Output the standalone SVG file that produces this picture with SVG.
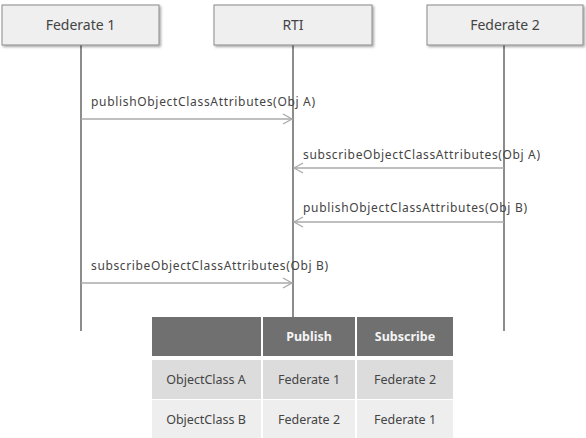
<svg xmlns="http://www.w3.org/2000/svg" width="586" height="438" viewBox="0 0 586 438">
<defs>
<marker id="open" markerWidth="12" markerHeight="12" refX="10" refY="6" orient="auto" markerUnits="userSpaceOnUse">
<path d="M1,1 L10,6 L1,11" fill="none" stroke="#aaaaaa" stroke-width="1.3"/>
</marker>
<filter id="sh" x="-5%" y="-5%" width="115%" height="130%">
<feDropShadow dx="1.5" dy="1.5" stdDeviation="1" flood-color="#000" flood-opacity="0.35"/>
</filter>
</defs>
<style>
.box{fill:#efefef;stroke:#8a8a8a;stroke-width:1}
.hd{font-family:"Noto Sans","Open Sans",sans-serif;font-size:14px;fill:#444;text-anchor:middle}
.life{stroke:#666;stroke-width:1.5}
.msg{stroke:#aaaaaa;stroke-width:1.5;fill:none;marker-end:url(#open)}
.lbl{font-family:"Noto Sans","Open Sans",sans-serif;font-size:12px;fill:#444}
.th{font-family:"Noto Sans","Open Sans",sans-serif;font-size:12.5px;fill:#f4f4f4;font-weight:bold;text-anchor:middle}
.td{font-family:"Noto Sans","Open Sans",sans-serif;font-size:12.5px;fill:#444;text-anchor:middle}
</style>
<rect width="586" height="438" fill="#ffffff"/>
<g id="lifelines">
<line class="life" x1="81" y1="45" x2="81" y2="331"/>
<line class="life" x1="293" y1="45" x2="293" y2="317"/>
<line class="life" x1="504" y1="45" x2="504" y2="331"/>
</g>
<g id="federate1">
<rect class="box" x="2" y="5" width="157" height="40" filter="url(#sh)"/>
<text class="hd" x="80.5" y="30">Federate 1</text>
</g>
<g id="rti">
<rect class="box" x="214" y="5" width="158" height="40" filter="url(#sh)"/>
<text class="hd" x="293" y="30">RTI</text>
</g>
<g id="federate2">
<rect class="box" x="427" y="5" width="156" height="40" filter="url(#sh)"/>
<text class="hd" x="505" y="30">Federate 2</text>
</g>
<g id="connectors">
<line class="msg" x1="81" y1="119" x2="292" y2="119"/>
<line class="msg" x1="504" y1="168" x2="294" y2="168"/>
<line class="msg" x1="504" y1="222" x2="294" y2="222"/>
<line class="msg" x1="81" y1="283" x2="292" y2="283"/>
</g>
<g id="labels">
<text class="lbl" x="91" y="106" textLength="224">publishObjectClassAttributes(Obj A)</text>
<text class="lbl" x="303" y="159" textLength="237">subscribeObjectClassAttributes(Obj A)</text>
<text class="lbl" x="303" y="212" textLength="224">publishObjectClassAttributes(Obj B)</text>
<text class="lbl" x="91" y="270" textLength="237">subscribeObjectClassAttributes(Obj B)</text>
</g>
<g id="table">
<rect x="152" y="317" width="109" height="39" fill="#707070"/>
<rect x="263" y="317" width="92" height="39" fill="#707070"/>
<rect x="357" y="317" width="96" height="39" fill="#707070"/>
<rect x="152" y="360" width="109" height="39" fill="#dcdcdc"/>
<rect x="263" y="360" width="92" height="39" fill="#dcdcdc"/>
<rect x="357" y="360" width="96" height="39" fill="#dcdcdc"/>
<rect x="152" y="400" width="109" height="38" fill="#eeeeee"/>
<rect x="263" y="400" width="92" height="38" fill="#eeeeee"/>
<rect x="357" y="400" width="96" height="38" fill="#eeeeee"/>
<text class="th" x="309" y="341">Publish</text>
<text class="th" x="405" y="341">Subscribe</text>
<text class="td" x="206" y="384">ObjectClass  A</text>
<text class="td" x="309" y="384">Federate 1</text>
<text class="td" x="405" y="384">Federate 2</text>
<text class="td" x="206" y="424">ObjectClass  B</text>
<text class="td" x="309" y="424">Federate 2</text>
<text class="td" x="405" y="424">Federate 1</text>
</g>
</svg>
